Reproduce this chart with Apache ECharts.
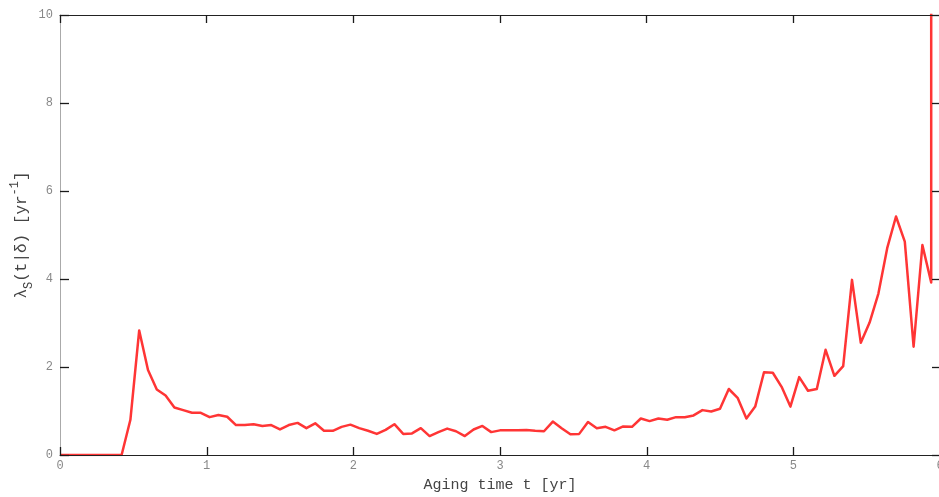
<!DOCTYPE html>
<html>
<head>
<meta charset="utf-8">
<script src="https://cdn.jsdelivr.net/npm/echarts@6/dist/echarts.min.js"></script>
<style>
  html, body { margin: 0; padding: 0; background: #fff; }
  #chart { width: 939px; height: 497px; }
</style>
</head>
<body>
<div id="chart"></div>
<script>
// Aging time samples [yr]; the last sample repeats 5.94 for the divergent tail.
const agingTime = [
  0.00, 0.06, 0.12, 0.18, 0.24, 0.30, 0.36, 0.42, 0.48, 0.54,
  0.60, 0.66, 0.72, 0.78, 0.84, 0.90, 0.96, 1.02, 1.08, 1.14,
  1.20, 1.26, 1.32, 1.38, 1.44, 1.50, 1.56, 1.62, 1.68, 1.74,
  1.80, 1.86, 1.92, 1.98, 2.04, 2.10, 2.16, 2.22, 2.28, 2.34,
  2.40, 2.46, 2.52, 2.58, 2.64, 2.70, 2.76, 2.82, 2.88, 2.94,
  3.00, 3.06, 3.12, 3.18, 3.24, 3.30, 3.36, 3.42, 3.48, 3.54,
  3.60, 3.66, 3.72, 3.78, 3.84, 3.90, 3.96, 4.02, 4.08, 4.14,
  4.20, 4.26, 4.32, 4.38, 4.44, 4.50, 4.56, 4.62, 4.68, 4.74,
  4.80, 4.86, 4.92, 4.98, 5.04, 5.10, 5.16, 5.22, 5.28, 5.34,
  5.40, 5.46, 5.52, 5.58, 5.64, 5.70, 5.76, 5.82, 5.88, 5.94,
  5.94
];

// Estimated hazard rate lambda_S(t|delta) [1/yr]
const hazardRate = [
  0, 0, 0, 0, 0, 0, 0, 0, 0.80, 2.83,
  1.93, 1.49, 1.35, 1.08, 1.02, 0.96, 0.96, 0.86, 0.91, 0.87,
  0.68, 0.68, 0.70, 0.66, 0.68, 0.58, 0.68, 0.73, 0.61, 0.72,
  0.55, 0.55, 0.64, 0.69, 0.61, 0.55, 0.48, 0.57, 0.70, 0.48,
  0.49, 0.61, 0.43, 0.52, 0.60, 0.54, 0.43, 0.58, 0.66, 0.52,
  0.56, 0.56, 0.565, 0.57, 0.55, 0.54, 0.76, 0.61, 0.47, 0.48,
  0.75, 0.61, 0.64, 0.56, 0.65, 0.64, 0.83, 0.77, 0.83, 0.80,
  0.86, 0.86, 0.90, 1.02, 0.99, 1.05, 1.50, 1.30, 0.83, 1.10,
  1.88, 1.87, 1.55, 1.10, 1.77, 1.46, 1.50, 2.39, 1.80, 2.02,
  3.98, 2.55, 3.01, 3.67, 4.70, 5.42, 4.85, 2.46, 4.77, 3.92,
  1000
];

const xTicks = { min: 0, max: 6, interval: 1 };
const yTicks = { min: 0, max: 10, interval: 2 };
const xTickValues = [0, 1, 2, 3, 4, 5, 6];
const yTickValues = [0, 2, 4, 6, 8, 10];

const points = agingTime.map((t, i) => [t, hazardRate[i]]);

const tickFont = 'Liberation Mono, DejaVu Sans Mono, monospace';
const tickColor = '#1a1a1a';

// Shared look of the inward tick marks on the top and right edges
function innerTicks(length) {
  return { show: true, inside: true, length: length, interval: 0, lineStyle: { color: tickColor, width: 1.3, opacity: 1 } };
}

// Inward tick on the bottom edge, placed through the axis scale
function bottomTick(params, api) {
  const p = api.coord([api.value(0), api.value(1)]);
  const x = Math.round(p[0]) + 0.5;
  return { type: 'line', shape: { x1: x, y1: p[1], x2: x, y2: p[1] - 8 },
           style: { stroke: tickColor, lineWidth: 1.3 } };
}

// Inward tick on the left edge, placed through the axis scale
function leftTick(params, api) {
  const p = api.coord([api.value(0), api.value(1)]);
  const y = Math.round(p[1]) + 0.5;
  return { type: 'line', shape: { x1: p[0], y1: y, x2: p[0] + 9, y2: y },
           style: { stroke: tickColor, lineWidth: 1.3 } };
}

const chart = echarts.init(document.getElementById('chart'), null, { renderer: 'canvas' });

chart.setOption({
  animation: false,
  backgroundColor: '#ffffff',
  grid: { left: 60, right: -1, top: 15, bottom: 42, containLabel: false, outerBoundsMode: 'none' },
  xAxis: [
    {
      type: 'value', position: 'bottom',
      min: xTicks.min, max: xTicks.max, interval: xTicks.interval,
      name: 'Aging time t [yr]',
      nameLocation: 'middle', nameGap: 23, nameMoveOverlap: false,
      nameTextStyle: { fontFamily: tickFont, fontSize: 15, color: '#444' },
      axisLine: { show: true, onZero: false, lineStyle: { color: '#222', width: 1 } },
      axisTick: { show: false },
      axisLabel: { show: true, margin: 5, fontFamily: tickFont, fontSize: 12, color: '#888' },
      splitLine: { show: false },
      z: 5
    },
    {
      type: 'value', position: 'top',
      min: xTicks.min, max: xTicks.max, interval: xTicks.interval,
      axisLine: { show: true, onZero: false, lineStyle: { color: '#222', width: 1 } },
      axisTick: innerTicks(8),
      axisLabel: { show: false },
      splitLine: { show: false },
      z: 5
    }
  ],
  yAxis: [
    {
      type: 'value', position: 'left',
      min: yTicks.min, max: yTicks.max, interval: yTicks.interval,
      name: '{m|λ}{sub|S}{m|(t|δ) [yr}{sup|-1}{m|]}',
      nameLocation: 'middle', nameGap: 25, nameRotate: 90, nameMoveOverlap: false,
      nameTextStyle: {
        rich: {
          m: { fontFamily: tickFont, fontSize: 16, color: '#444', lineHeight: 26, verticalAlign: 'middle' },
          sub: { fontFamily: tickFont, fontSize: 12, color: '#444', lineHeight: 26, verticalAlign: 'bottom' },
          sup: { fontFamily: tickFont, fontSize: 12, color: '#444', lineHeight: 26, verticalAlign: 'top' }
        }
      },
      axisLine: { show: true, onZero: false, lineStyle: { color: '#aaa', width: 1 } },
      axisTick: { show: false },
      axisLabel: { show: true, margin: 7, fontFamily: tickFont, fontSize: 12, color: '#888' },
      splitLine: { show: false },
      z: 5
    },
    {
      type: 'value', position: 'right',
      min: yTicks.min, max: yTicks.max, interval: yTicks.interval,
      axisLine: { show: false, onZero: false },
      axisTick: innerTicks(8),
      axisLabel: { show: false },
      splitLine: { show: false },
      z: 5
    }
  ],
  series: [
    {
      type: 'line',
      xAxisIndex: 0, yAxisIndex: 0,
      data: points,
      showSymbol: false,
      clip: true,
      lineStyle: { color: '#ff3535', width: 2.5, join: 'round' },
      itemStyle: { color: '#ff3535' },
      z: 1
    },
    {
      type: 'custom',
      xAxisIndex: 0, yAxisIndex: 0,
      data: xTickValues.map(v => [v, yTicks.min]),
      renderItem: bottomTick,
      clip: false, silent: true, z: 6
    },
    {
      type: 'custom',
      xAxisIndex: 0, yAxisIndex: 0,
      data: yTickValues.map(v => [xTicks.min, v]),
      renderItem: leftTick,
      clip: false, silent: true, z: 6
    }
  ]
});
</script>
</body>
</html>
